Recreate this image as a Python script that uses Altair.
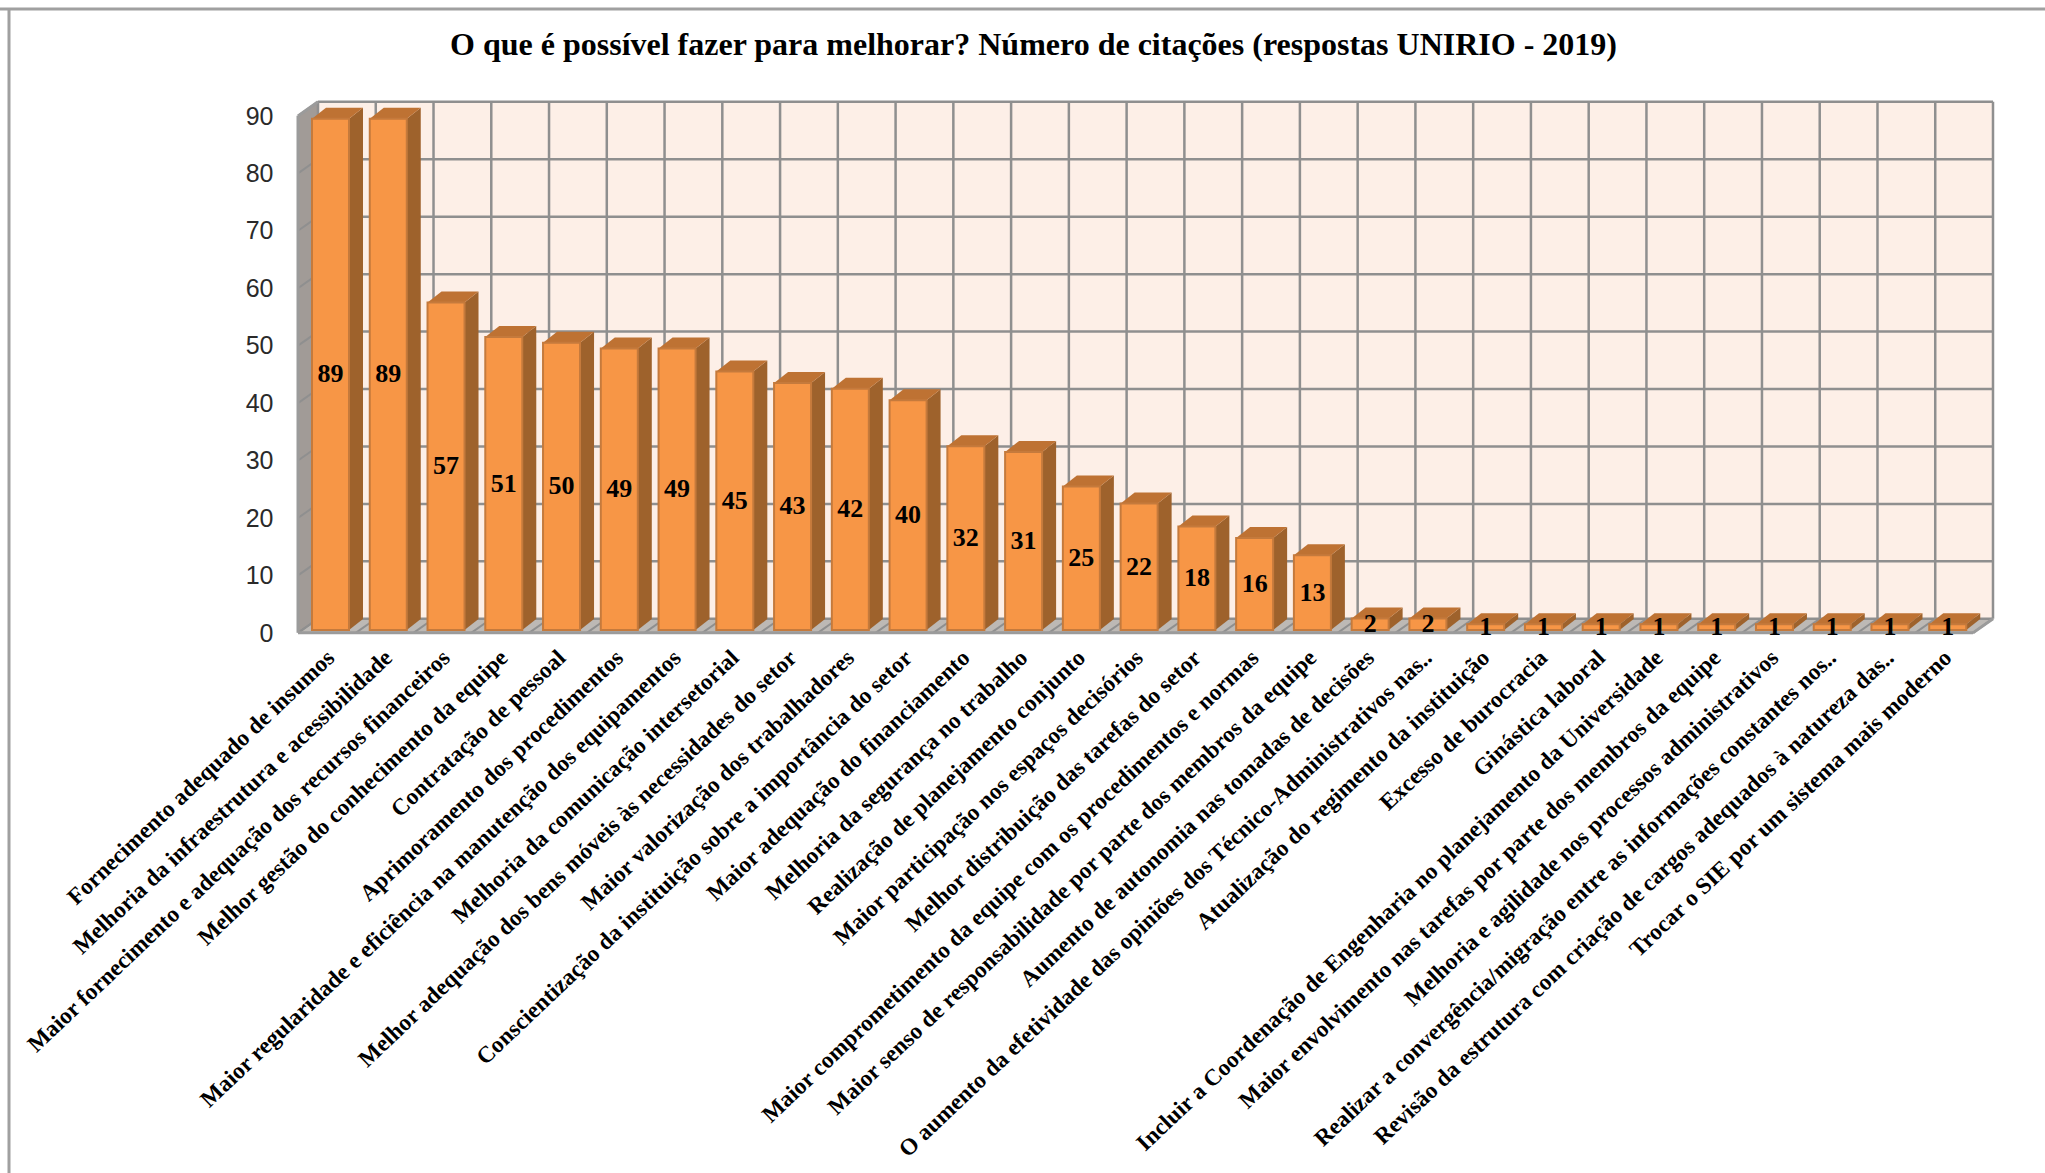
import json
import altair as alt
import pandas as pd

TITLE = "O que é possível fazer para melhorar? Número de citações (respostas UNIRIO - 2019)"

categories = [
    "Fornecimento adequado de insumos",
    "Melhoria da infraestrutura e acessibilidade",
    "Maior fornecimento e adequação dos recursos financeiros",
    "Melhor gestão do conhecimento da equipe",
    "Contratação de pessoal",
    "Aprimoramento dos procedimentos",
    "Maior regularidade e eficiência na manutenção dos equipamentos",
    "Melhoria da comunicação intersetorial",
    "Melhor adequação dos bens móveis às necessidades do setor",
    "Maior valorização dos trabalhadores",
    "Conscientização da instituição sobre a importância do setor",
    "Maior adequação do financiamento",
    "Melhoria da segurança no trabalho",
    "Realização de planejamento conjunto",
    "Maior participação nos espaços decisórios",
    "Melhor distribuição das tarefas do setor",
    "Maior comprometimento da equipe com os procedimentos e normas",
    "Maior senso de responsabilidade por parte dos membros da equipe",
    "Aumento de autonomia nas tomadas de decisões",
    "O aumento da efetividade das opiniões dos Técnico-Administrativos nas..",
    "Atualização do regimento da instituição",
    "Excesso de burocracia",
    "Ginástica laboral",
    "Incluir a Coordenação de Engenharia no planejamento da Universidade",
    "Maior envolvimento nas tarefas por parte dos membros da equipe",
    "Melhoria e agilidade nos processos administrativos",
    "Realizar a convergência/migração entre as informações constantes nos..",
    "Revisão da estrutura com criação de cargos adequados à natureza das..",
    "Trocar o SIE por um sistema mais moderno",
]
values = [89, 89, 57, 51, 50, 49, 49, 45, 43, 42, 40, 32, 31, 25, 22, 18, 16, 13,
          2, 2, 1, 1, 1, 1, 1, 1, 1, 1, 1]
y_ticks = list(range(0, 100, 10))

# Pixel size of one category column and one value unit.
COL = 57.76
UNIT = 5.74
N = len(values)

# Oblique projection: bar and wall offsets, in column and value units.
BAR_LEFT = 14 / COL
BAR_W = 37 / COL
BAR_DX = 14 / COL
BAR_DY = 11 / UNIT
WALL_DX = 20 / COL
WALL_DY = 1.95
FRONT_DY = -0.5

x_scale = alt.Scale(domain=[0, N], nice=False, zero=False)
y_scale = alt.Scale(domain=[0, 90], nice=False, zero=False)

centers = [i + BAR_LEFT + BAR_W / 2 for i in range(N)]
label_lookup = json.dumps(categories, ensure_ascii=False)

# Every layer shares the same axis definitions so that they merge into one.
x_axis = alt.Axis(
    values=centers,
    labelExpr=f"{label_lookup}[round(datum.value - {BAR_LEFT + BAR_W / 2})]",
    labelAngle=-43.5,
    labelAlign="right",
    labelBaseline="middle",
    labelFont="Liberation Serif",
    labelFontWeight="bold",
    labelFontSize=23.3,
    labelColor="#000000",
    labelPadding=24,
    labelOverlap=False,
    labelLimit=0,
    labelBound=False,
    labelFlush=False,
    domain=False,
    ticks=False,
    grid=False,
    title=None,
)
y_axis = alt.Axis(
    values=y_ticks,
    labelFont="Liberation Sans",
    labelFontSize=25,
    labelColor="#2A2A2A",
    labelPadding=25,
    labelOffset=3,
    domain=False,
    ticks=False,
    grid=False,
    title=None,
)


def X(field="x"):
    return alt.X(f"{field}:Q", scale=x_scale, axis=x_axis)


def Y(field="y"):
    return alt.Y(f"{field}:Q", scale=y_scale, axis=y_axis)


GRID = "#8F8F8F"

# Back wall of the 3-D box.
wall = alt.Chart(pd.DataFrame([{
    "x": WALL_DX, "x2": WALL_DX + N, "y": WALL_DY, "y2": 90 + WALL_DY,
}])).mark_rect(color="#FDEFE7").encode(
    x=X(), x2="x2:Q", y=Y(), y2="y2:Q")

# Left side wall, as a parallelogram.
side_wall = alt.Chart(pd.DataFrame([
    {"x": 0, "y": FRONT_DY, "y2": 90 + FRONT_DY},
    {"x": WALL_DX, "y": WALL_DY, "y2": 90 + WALL_DY},
])).mark_area(color="#A19B97", orient="vertical").encode(
    x=X(), y=Y(), y2="y2:Q")

# Floor of the box.
floor = alt.Chart(pd.DataFrame([
    {"y": FRONT_DY, "x": 0, "x2": N},
    {"y": WALL_DY, "x": WALL_DX, "x2": N + WALL_DX},
])).mark_area(color="#BDB9B5", orient="horizontal").encode(
    y=Y(), x=X(), x2="x2:Q")

# Wall gridlines.
h_grid = alt.Chart(pd.DataFrame([
    {"x": WALL_DX, "x2": N + WALL_DX, "y": t + WALL_DY} for t in y_ticks
])).mark_rule(color=GRID, strokeWidth=2.5).encode(x=X(), x2="x2:Q", y=Y())

v_grid = alt.Chart(pd.DataFrame([
    {"x": WALL_DX + i, "y": WALL_DY, "y2": 90 + WALL_DY} for i in range(N + 1)
])).mark_rule(color=GRID, strokeWidth=2.5).encode(x=X(), y=Y(), y2="y2:Q")

side_grid = alt.Chart(pd.DataFrame([
    {"x": 0, "x2": WALL_DX, "y": t + FRONT_DY, "y2": t + WALL_DY} for t in y_ticks
])).mark_rule(color=GRID, strokeWidth=2).encode(x=X(), x2="x2:Q", y=Y(), y2="y2:Q")

floor_grid = alt.Chart(pd.DataFrame([
    {"x": i, "x2": i + WALL_DX, "y": FRONT_DY, "y2": WALL_DY} for i in range(N + 1)
])).mark_rule(color=GRID, strokeWidth=2).encode(x=X(), x2="x2:Q", y=Y(), y2="y2:Q")

# Thick outer edges of the box at the front plane.
front_edges = alt.Chart(pd.DataFrame([
    {"x": 0, "x2": N, "y": FRONT_DY, "y2": FRONT_DY},
    {"x": 0, "x2": 0, "y": FRONT_DY, "y2": 90 + FRONT_DY},
    {"x": 0, "x2": WALL_DX, "y": 90 + FRONT_DY, "y2": 90 + WALL_DY},
    {"x": N, "x2": N + WALL_DX, "y": FRONT_DY, "y2": WALL_DY},
])).mark_rule(color="#9B9B9B", strokeWidth=3).encode(
    x=X(), x2="x2:Q", y=Y(), y2="y2:Q")

# Each bar contributes a right face and a top face behind its front face.
side_rows, cap_rows, bar_rows = [], [], []
for i, v in enumerate(values):
    left = i + BAR_LEFT
    right = left + BAR_W
    bar_rows.append({"x": left, "x2": right, "y": 0, "y2": v, "label": v,
                     "mid": v / 2, "center": (left + right) / 2})
    side_rows += [
        {"bar": i, "x": right, "y": 0, "y2": v},
        {"bar": i, "x": right + BAR_DX, "y": BAR_DY, "y2": v + BAR_DY},
    ]
    cap_rows += [
        {"bar": i, "y": v, "x": left, "x2": right},
        {"bar": i, "y": v + BAR_DY, "x": left + BAR_DX, "x2": right + BAR_DX},
    ]

bar_sides = alt.Chart(pd.DataFrame(side_rows)).mark_area(
    color="#9E622C", orient="vertical"
).encode(x=X(), y=Y(), y2="y2:Q", detail="bar:N")

bar_caps = alt.Chart(pd.DataFrame(cap_rows)).mark_area(
    color="#BE7233", orient="horizontal"
).encode(y=Y(), x=X(), x2="x2:Q", detail="bar:N")

bar_fronts = alt.Chart(pd.DataFrame(bar_rows)).mark_rect(
    fill="#F79646", stroke="#C57A3C", strokeWidth=2
).encode(x=X(), x2="x2:Q", y=Y(), y2="y2:Q")

bar_labels = alt.Chart(pd.DataFrame(bar_rows)).mark_text(
    font="Liberation Serif", fontWeight="bold", fontSize=26,
    color="#000000", baseline="middle", align="center",
).encode(x=X("center"), y=Y("mid"), text="label:Q")

# Chart frame: top and left borders of the surrounding box.
frame_top = alt.Chart(pd.DataFrame({"k": [0]})).mark_rule(
    color="#A0A0A0", strokeWidth=3
).encode(x=alt.value(-298), x2=alt.value(1747), y=alt.value(-104))
frame_left = alt.Chart(pd.DataFrame({"k": [0]})).mark_rule(
    color="#A0A0A0", strokeWidth=3
).encode(x=alt.value(-289), y=alt.value(-104), y2=alt.value(1060))

chart = alt.layer(
    wall, side_wall, floor, h_grid, v_grid, side_grid, floor_grid, front_edges,
    bar_sides, bar_caps, bar_fronts, bar_labels, frame_top, frame_left,
).properties(
    width=1675,
    height=517,
    padding={"left": 298, "top": 113, "right": 72, "bottom": 543},
    autosize=alt.AutoSizeParams(type="none"),
    background="#FFFFFF",
    title=alt.TitleParams(
        TITLE,
        font="Liberation Serif",
        fontWeight="bold",
        fontSize=32,
        color="#000000",
        anchor="middle",
        dx=-102,
        dy=54,
        offset=0,
    ),
).configure_view(stroke=None)

chart.save("out.html", embed_options={"renderer": "svg", "actions": False})
